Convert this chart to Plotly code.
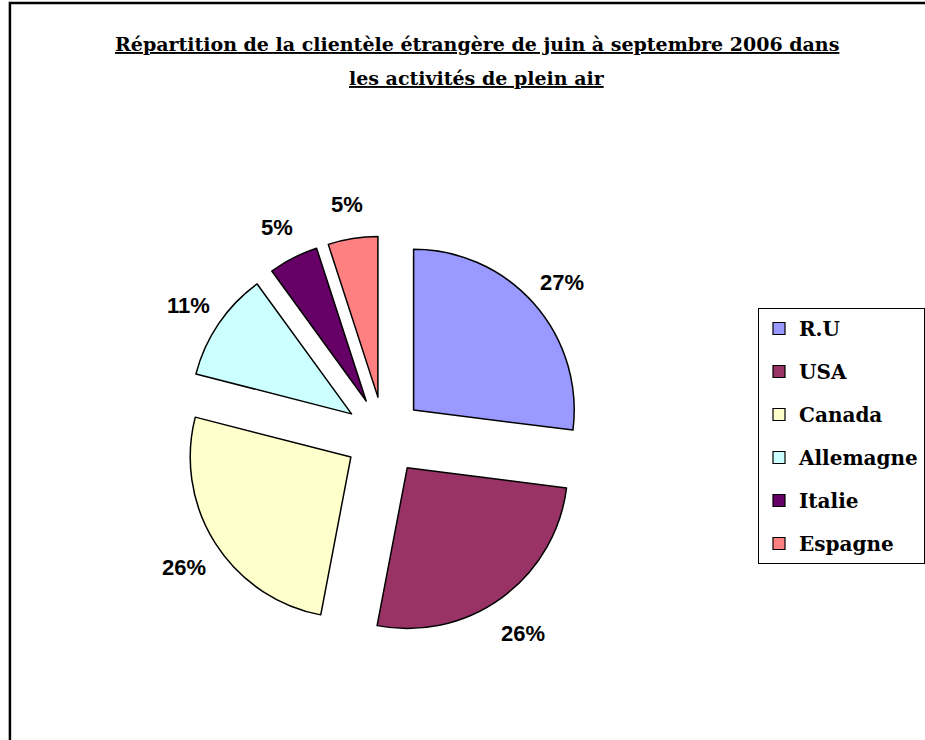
import math
import plotly.graph_objects as go

labels = ["R.U", "USA", "Canada", "Allemagne", "Italie", "Espagne"]
values = [27, 26, 26, 11, 5, 5]
colors = ["#9999FF", "#993366", "#FFFFCC", "#CCFFFF", "#660066", "#FF8080"]
title_lines = ["Répartition de la clientèle étrangère de juin à septembre 2006 dans",
               "les activités de plein air"]

W, H = 925, 740
cx, cy = 387, 436          # pie centre (px)
size = 403                 # pie domain size (px)
pull = 0.245
radius = size / 2 / (1 + pull)
dom_x = [(cx - size / 2) / W, (cx + size / 2) / W]
dom_y = [(H - cy - size / 2) / H, (H - cy + size / 2) / H]

fig = go.Figure()
fig.add_trace(go.Pie(
    labels=labels, values=values, sort=False, direction="clockwise", rotation=0,
    marker=dict(colors=colors, line=dict(color="black", width=1.5)),
    pull=[pull] * len(values), textinfo="none",
    showlegend=False, domain=dict(x=dom_x, y=dom_y), hoverinfo="label+percent",
))

# percentage labels placed outside each slice, from the slice mid-angles
total = sum(values)
annotations = []
cum = 0
for v in values:
    mid = (cum + v / 2) / total * 2 * math.pi
    cum += v
    d = radius * (pull + 1.23)
    px = cx + d * math.sin(mid)
    py = cy - d * math.cos(mid) + 4
    annotations.append(dict(
        x=px / W, y=(H - py) / H, xref="paper", yref="paper", showarrow=False,
        text=f"{round(v / total * 100)}%", xanchor="center", yanchor="middle",
        font=dict(family="Liberation Sans", size=22, color="black", weight="bold")))

for i, (line, ypx) in enumerate(zip(title_lines, [44, 78])):
    annotations.append(dict(
        x=481 / W, y=(H - ypx) / H, xref="paper", yref="paper", showarrow=False,
        text=f"<b><u>{line}</u></b>", xanchor="center", yanchor="middle",
        font=dict(family="DejaVu Serif", size=19, color="black")))

for lab, col in zip(labels, colors):
    fig.add_trace(go.Scatter(
        x=[None], y=[None], mode="markers", name=lab, legendgroup=lab,
        marker=dict(symbol="square", size=12, color=col, line=dict(color="black", width=1.2)),
    ))

fig.update_layout(
    width=W, height=H, margin=dict(l=0, r=0, t=0, b=0),
    paper_bgcolor="white", plot_bgcolor="white",
    xaxis=dict(visible=False), yaxis=dict(visible=False),
    annotations=annotations,
    legend=dict(x=764 / W, xanchor="left", y=(H - 308) / H, yanchor="top",
                bgcolor="white", bordercolor="black", borderwidth=1,
                font=dict(family="DejaVu Serif", size=20, color="black", weight="bold"),
                tracegroupgap=14, traceorder="grouped", itemclick=False),
    shapes=[dict(type="rect", xref="paper", yref="paper",
                 x0=10 / W, x1=1.05, y0=-0.05, y1=(H - 3) / H,
                 line=dict(color="black", width=2.5), fillcolor="rgba(0,0,0,0)")],
)

fig.write_html("out.html", config={"displayModeBar": False},
               post_script="document.body.style.margin='0';")
